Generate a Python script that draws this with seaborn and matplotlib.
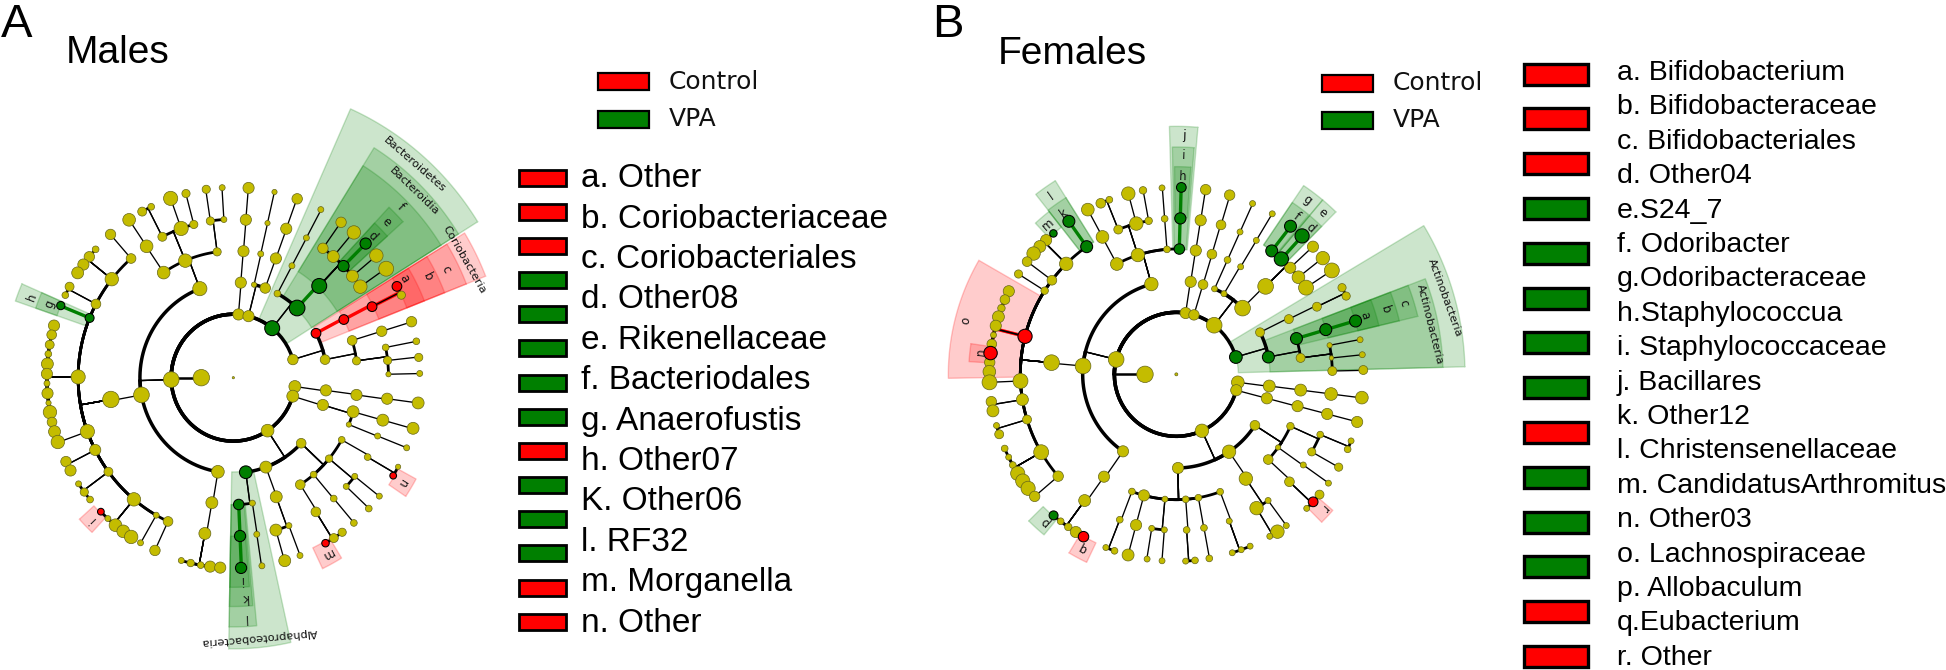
import numpy as np
import matplotlib
matplotlib.use("Agg")
import matplotlib.pyplot as plt
from matplotlib.patches import Rectangle
import seaborn as sns

# --- node tables, depth-first; x/y/diameter are read off crops of the picture ---
# level: 0 root, 1 top node, 2 phylum ... 6 genus. parent = last node one level up
A_X = [700, 605, 513, 601,
       492, 441, 390, 557, 489, 429, 456, 545, 514, 583, 560, 652, 632, 620, 672, 667,
       423, 330, 395, 334, 337, 289, 270, 252, 234, 287, 208, 195, 267, 181,
       232, 160, 153, 147, 142, 139, 137, 137, 139, 142, 147, 153, 161,
       259, 171, 283, 196, 210, 323, 234, 252, 270, 402, 303, 324, 347, 371, 395, 469, 423, 505, 466,
       654, 636, 615, 545, 573, 603, 631, 661,
       715, 722, 730, 737, 745, 745, 761, 781, 801, 822, 794, 826, 857, 889,
       815, 830, 874, 917, 960, 889, 956, 966, 1020, 998, 1059, 1029, 1095, 1056, 1127, 1080, 1158,
       878, 947, 1031, 1117, 1190, 1205, 975, 1057, 1146, 1236, 1071, 1159, 1251, 1165, 1259, 1167, 1262,
       885, 978, 1071, 1164, 1257, 878, 969, 1061, 1151, 1241, 1047, 1134, 1222,
       803, 737, 716, 720, 723, 757, 770, 785, 797, 828, 827, 853, 866, 899,
       903, 900, 947, 1025, 1000, 975, 941, 1001, 1061, 988, 1065, 1138, 1039, 1106, 1026, 1104, 1195, 1180]
A_Y = [800, 800, 805, 572,
       528, 460, 393, 498, 437, 372, 360, 416, 339, 407, 328, 477, 398, 318, 394, 313,
       845, 857, 492, 430, 545, 468, 487, 507, 528, 608, 563, 585, 644, 612,
       798, 664, 688, 714, 738, 764, 790, 815, 841, 866, 890, 916, 941,
       941, 968, 989, 1019, 1042, 1046, 1077, 1098, 1117, 1116, 1148, 1166, 1183, 1198, 1212, 1157, 1227, 1172, 1247,
       1043, 1123, 1203, 1272, 1278, 1283, 1287, 1290,
       640, 557, 476, 395, 314, 642, 563, 483, 404, 323, 571, 494, 417, 341,
       673, 585, 512, 440, 367, 621, 563, 467, 400, 487, 425, 511, 453, 537, 484, 564, 517,
       753, 685, 649, 615, 563, 585, 753, 703, 679, 654, 756, 721, 705, 755, 747, 791, 789,
       823, 833, 845, 855, 866, 848, 871, 889, 911, 932, 922, 952, 983,
       938, 1043, 1127, 1209, 1291, 1125, 1205, 1285, 1031, 1108, 1194, 1272, 1183, 1260,
       970, 1077, 1148, 1200, 1215, 1228, 1052, 1114, 1177, 1011, 1057, 1108, 1083, 1140, 962, 1007, 1032, 1055]
A_D = [6, 44, 42, 38,
       34, 34, 34, 36, 24, 24, 18, 38, 38, 22, 22, 22, 22, 22, 16, 16,
       42, 44, 26, 28, 36, 18, 28, 30, 32, 26, 24, 18, 24, 22,
       38, 30, 26, 24, 18, 32, 30, 16, 30, 14, 36, 26, 32,
       38, 36, 30, 28, 30, 24, 16, 22, 18, 36, 18, 16, 34, 34, 36, 16, 16, 26, 28,
       34, 32, 32, 16, 20, 18, 30, 30,
       30, 30, 30, 30, 30, 30, 14, 16, 14, 14, 28, 30, 30, 28,
       40, 18, 16, 16, 16, 42, 40, 28, 28, 32, 36, 30, 30, 32, 36, 36, 40,
       28, 26, 26, 26, 26, 22, 26, 26, 28, 28, 22, 18, 18, 22, 22, 14, 16,
       32, 30, 30, 30, 32, 32, 30, 32, 32, 32, 14, 16, 16,
       34, 34, 28, 30, 30, 16, 16, 16, 32, 32, 32, 32, 16, 16,
       26, 26, 26, 22, 24, 20, 18, 18, 18, 20, 16, 16, 16, 18, 18, 18, 14, 18]
A_LEVEL = [0, 1, 2, 3,
           4, 5, 6, 4, 5, 6, 6, 5, 6, 5, 6, 4, 5, 6, 5, 6,
           3, 4, 5, 6, 5, 6, 6, 6, 6, 5, 6, 6, 5, 6,
           5, 6, 6, 6, 6, 6, 6, 6, 6, 6, 6, 6, 6,
           5, 6, 5, 6, 6, 5, 6, 6, 6, 5, 6, 6, 6, 6, 6, 5, 6, 5, 6,
           3, 4, 5, 6, 6, 6, 6, 6,
           2, 3, 4, 5, 6, 2, 3, 4, 5, 6, 3, 4, 5, 6,
           2, 3, 4, 5, 6, 3, 4, 5, 6, 5, 6, 5, 6, 5, 6, 5, 6,
           2, 3, 4, 5, 6, 6, 3, 4, 5, 6, 4, 5, 6, 5, 6, 5, 6,
           2, 3, 4, 5, 6, 2, 3, 4, 5, 6, 4, 5, 6,
           2, 3, 4, 5, 6, 4, 5, 6, 3, 4, 5, 6, 5, 6,
           3, 4, 5, 6, 6, 6, 4, 5, 6, 4, 5, 6, 5, 6, 4, 5, 6, 6]
A_GREEN = [(267, 644), (181, 612), (815, 673), (889, 621), (956, 563), (1029, 511), (1095, 453),
           (737, 1043), (716, 1127), (720, 1209), (723, 1291)]
A_RED = [(303, 1148), (947, 685), (1031, 649), (1117, 615), (1190, 563), (975, 1228), (1180, 1055)]
A_PLAIN = [889, 1029, 716]  # green nodes joined by a thin black line

B_X = [679, 585, 497, 604,
       501, 457, 413, 564, 505, 452, 478, 559, 535, 596, 579, 651, 644, 636, 688, 691, 694,
       399, 305, 410, 356, 349, 310, 288, 268, 250, 306, 230, 284, 204,
       225, 175, 163, 153, 144, 136, 130, 125, 120, 118, 116,
       211, 118, 217, 123, 127, 230, 138, 147, 273, 163, 175, 187, 202, 217, 233, 324, 253,
       519, 462, 403, 310, 331, 354, 377, 400,
       707, 722, 737, 752, 767, 732, 759, 785, 813, 839,
       793, 793, 832, 870, 908, 822, 871, 919, 967, 877, 946, 965, 1022, 994, 1056, 1021, 1090, 1045, 1119, 1068, 1146,
       858, 930, 1015, 1101, 1176, 1189, 955, 1038, 1127, 1217, 1050, 1138, 1231, 1144, 1238, 1147, 1241,
       864, 957, 1050, 1143, 1237, 860, 951, 1041, 1132, 1222,
       757, 684, 546, 509, 467, 493, 582, 558, 534, 645, 605, 591, 643, 636,
       707, 710, 707, 735, 745, 762, 778, 810, 838, 847, 874, 901,
       837, 887, 920, 983, 960, 954, 1009,
       915, 954, 1018, 1110, 1090, 1071, 984, 1060, 1136, 1020, 1111, 1204, 1193, 1086, 1167]
B_Y = [823, 823, 778, 552,
       493, 410, 328, 466, 389, 309, 299, 371, 281, 363, 271, 450, 357, 263, 449, 355, 262,
       798, 788, 440, 363, 492, 400, 420, 438, 460, 541, 484, 572, 521,
       709, 573, 598, 624, 650, 677, 705, 732, 759, 787, 815,
       843, 847, 899, 905, 933, 959, 977, 1003, 1057, 1046, 1072, 1096, 1121, 1144, 1166, 1129, 1190,
       1054, 1130, 1203, 1247, 1265, 1282, 1297, 1311,
       638, 546, 454, 361, 269, 644, 554, 465, 375, 285,
       675, 568, 481, 396, 310, 581, 502, 421, 341, 625, 560, 453, 378, 477, 408, 503, 439, 532, 474, 563, 511,
       771, 697, 658, 620, 563, 588, 771, 716, 689, 663, 774, 736, 719, 774, 764, 813, 810,
       847, 858, 870, 882, 893, 871, 895, 918, 942, 966,
       995, 1105, 1174, 1260, 1344, 1354, 1185, 1276, 1366, 1196, 1286, 1379, 1290, 1384,
       1197, 1291, 1385, 1382, 1192, 1284, 1376, 1174, 1264, 1359, 1350, 1340,
       1055, 1135, 1225, 1296, 1310, 1201, 1277,
       976, 1078, 1145, 1185, 1206, 1226, 1042, 1095, 1150, 978, 1004, 1023, 1048, 1056, 1102]
B_D = [8, 44, 42, 36,
       34, 34, 34, 36, 24, 26, 18, 36, 36, 20, 20, 18, 18, 16, 28, 30, 26,
       42, 42, 32, 32, 36, 20, 30, 32, 36, 26, 26, 20, 22,
       38, 30, 26, 20, 32, 30, 16, 26, 36, 28, 34,
       40, 40, 32, 28, 32, 24, 16, 24, 40, 18, 16, 18, 38, 38, 38, 28, 28,
       30, 30, 32, 24, 18, 20, 30, 28,
       30, 30, 30, 30, 28, 28, 26, 26, 26, 28,
       42, 16, 18, 16, 16, 16, 16, 16, 16, 42, 42, 32, 32, 38, 38, 30, 30, 34, 36, 40, 40,
       34, 24, 24, 24, 22, 22, 32, 32, 32, 32, 24, 14, 16, 12, 16, 24, 24,
       34, 32, 32, 34, 34, 30, 30, 30, 30, 30,
       36, 30, 18, 18, 16, 18, 30, 30, 32, 16, 16, 16, 16, 16,
       18, 18, 16, 18, 18, 18, 18, 18, 16, 16, 16, 16,
       36, 36, 36, 36, 16, 16, 16,
       26, 26, 26, 24, 26, 16, 14, 16, 16, 20, 18, 16, 18, 22, 22]
B_LEVEL = [0, 1, 2, 3,
           4, 5, 6, 4, 5, 6, 6, 5, 6, 5, 6, 4, 5, 6, 4, 5, 6,
           3, 4, 5, 6, 5, 6, 6, 6, 6, 5, 6, 5, 6,
           5, 6, 6, 6, 6, 6, 6, 6, 6, 6, 6,
           5, 6, 5, 6, 6, 5, 6, 6, 5, 6, 6, 6, 6, 6, 6, 5, 6,
           3, 4, 5, 6, 6, 6, 6, 6,
           2, 3, 4, 5, 6, 2, 3, 4, 5, 6,
           2, 3, 4, 5, 6, 3, 4, 5, 6, 3, 4, 5, 6, 5, 6, 5, 6, 5, 6, 5, 6,
           2, 3, 4, 5, 6, 6, 3, 4, 5, 6, 4, 5, 6, 5, 6, 5, 6,
           2, 3, 4, 5, 6, 2, 3, 4, 5, 6,
           2, 3, 4, 5, 6, 6, 4, 5, 6, 4, 5, 6, 5, 6,
           4, 5, 6, 6, 4, 5, 6, 4, 5, 6, 6, 6,
           3, 4, 5, 6, 6, 5, 6,
           3, 4, 5, 6, 6, 6, 4, 5, 6, 4, 5, 6, 6, 5, 6]
B_GREEN = [(688, 449), (691, 355), (694, 262), (410, 440), (356, 363), (310, 400), (310, 1247),
           (965, 453), (1022, 378), (994, 477), (1056, 408), (858, 771), (955, 771),
           (1038, 716), (1127, 689), (1217, 663)]
B_RED = [(225, 709), (120, 759), (400, 1311), (1090, 1206)]
B_PLAIN = [955, 1038]

# highlighted clades: angles in degrees, radii in crop units
A_W_T1 = [32, 32, 32, 42, 42, 21.5, 21.5, 21.5, 21.5, 156.5, 156.5, -91, -91, -91, -91, 222, -64.5, -34]
A_W_T2 = [66, 58, 58, 47, 47, 31.5, 31.5, 31.5, 31.5, 161, 161, -77.5, -84.5, -85, -85.5, 227, -58.5, -28.5]
A_W_R1 = [168, 245, 325, 415, 415, 250, 330, 415, 495, 415, 495, 245, 330, 330, 412, 498, 490, 498]
A_W_R2 = [765, 705, 650, 606, 550, 720, 665, 603, 545, 612, 555, 705, 648, 595, 545, 550, 550, 552]
A_W_S = "ggggg" + "rrrr" + "gg" + "gggg" + "rrr"

B_W_T1 = [150, 171.5, 1.5, 1.5, 13.5, 13.5, 13.5, 85, 85.5, 86, 50, 50.3, 45.5, 45.5, 122, 122, 128, 224.8, 239, -45.5]
B_W_T2 = [181, 176.5, 31, 21, 21, 21, 21, 91.6, 91, 90.5, 56, 56, 50, 50, 128, 128, 133, 230.5, 244.5, -41]
B_W_R1 = [468, 560, 186, 281, 376, 468, 560, 375, 375, 470, 468, 468, 468, 468, 468, 468, 560, 563, 560, 562]
B_W_R2 = [684, 623, 866, 800, 745, 688, 625, 744, 682, 623, 683, 622, 683, 622, 685, 625, 620, 624, 625, 622]
B_W_S = "rr" + "ggggg" + "ggg" + "gggg" + "ggg" + "g" + "rr"

# small clade letters
A_LET = ["a", "b", "c", "d", "e", "f", "g", "h", "i", "k", "l", "i", "m", "n"]
A_LET_X = [1213, 1284, 1337, 1118, 1158, 1203, 150, 95, 723, 733, 735, 278, 982, 1205]
A_LET_Y = [541, 538, 517, 432, 395, 355, 610, 592, 1325, 1372, 1425, 1168, 1258, 1075]
B_LET = ["a", "b", "c", "d", "e", "f", "g", "h", "i", "j", "k", "l", "m", "n", "o", "p", "q", "r"]
B_LET_X = [1245, 1305, 1362, 1082, 1118, 1040, 1072, 698, 701, 703, 340, 304, 295, 92, 47, 285, 400, 1120]
B_LET_Y = [647, 628, 610, 383, 338, 350, 300, 230, 167, 108, 338, 287, 375, 757, 662, 1265, 1345, 1226]

# long clade names, rotation as seen in the picture
A_NAMES = ["Bacteroidetes", "Bacteroidia", "Coriobacteria", "Alphaproteobacteria"]
A_NAME_X = [1245, 1243, 1392, 777]
A_NAME_Y = [247, 316, 492, 1475]
A_NAME_ROT = [-41, -44, -60, -175]
B_NAMES = ["Actinobacteria", "Actinobacteria"]
B_NAME_X = [1485, 1440]
B_NAME_Y = [592, 673]
B_NAME_ROT = [-70, -76]

# legends
A_ROW_LABELS = ["a. Other", "b. Coriobacteriaceae", "c. Coriobacteriales", "d. Other08",
                "e. Rikenellaceae", "f. Bacteriodales", "g. Anaerofustis", "h. Other07",
                "K. Other06", "l. RF32", "m. Morganella", "n. Other"]
A_ROW_COLORS = "rrrgggggrgggrr"
B_ROW_LABELS = ["a. Bifidobacterium", "b. Bifidobacteraceae", "c. Bifidobacteriales", "d. Other04",
                "e.S24_7", "f. Odoribacter", "g.Odoribacteraceae", "h.Staphylococcua",
                "i. Staphylococcaceae", "j. Bacillares", "k. Other12", "l. Christensenellaceae",
                "m. CandidatusArthromitus", "n. Other03", "o. Lachnospiraceae", "p. Allobaculum",
                "q.Eubacterium", "r. Other"]
B_ROW_COLORS = "rrrgggggrgggrr"
GROUPS = ["Control", "VPA"]

RED = "#ff0000"
GREEN = "#007f00"
YELLOW = "#c4bc00"
COLORS = {"r": RED, "g": GREEN, "y": YELLOW}
FONT = "Liberation Sans"
LEVEL_STEP_A = [0, 85, 165, 248, 330, 412, 495]
LEVEL_STEP_B = [0, 94, 186, 281, 376, 468, 561]
NODE_SCALE = 1.12


def to_px(cx, cy, panel):
    """Crop coordinates to picture pixels."""
    ox, oy = panel["origin"]
    return ox + np.asarray(cx) / panel["sx"], oy + np.asarray(cy) / panel["sy"]


def polar(theta, r, panel):
    c = panel["center"]
    return c[0] + r * panel["ex"] * np.cos(theta), c[1] - r * np.sin(theta)


def draw_wedges(ax, panel, t1, t2, r1, r2, states):
    for a, b, ri, ro, s in zip(t1, t2, r1, r2, states):
        th = np.radians(np.linspace(a, b, 40))
        xo, yo = polar(th, ro, panel)
        xi, yi = polar(th[::-1], ri, panel)
        px, py = to_px(np.r_[xo, xi], np.r_[yo, yi], panel)
        ax.fill(px, py, facecolor=COLORS[s], alpha=0.2, edgecolor="none", zorder=1)
        ax.plot(np.r_[px, px[0]], np.r_[py, py[0]], color=COLORS[s], alpha=0.22, lw=1, zorder=1)


def draw_tree(ax, panel, xs, ys, ds, levels, green, red, plain):
    c = panel["center"]
    radii = panel["radii"]
    states = ["g" if p in green else "r" if p in red else "y" for p in zip(xs, ys)]
    thetas = np.arctan2(c[1] - np.array(ys), (np.array(xs) - c[0]) / panel["ex"])
    radius = np.array([radii[k] for k in levels], dtype=float)
    last_at_level = {}
    for i, lev in enumerate(levels):
        last_at_level[lev] = i
        if lev < 2:
            continue
        p = last_at_level[lev - 1]
        tp, tc = thetas[p], thetas[i]
        d = (tc - tp + np.pi) % (2 * np.pi) - np.pi
        coloured = states[i] != "y" and states[i] == states[p] and xs[i] not in plain
        col = COLORS[states[i]] if coloured else "black"
        # straight piece out along the parent's angle, then along the child's circle
        rad_x, rad_y = polar(np.array([tp, tp]), np.array([radius[p], radius[i]]), panel)
        arc = np.linspace(tp, tp + d, 30)
        arc_x, arc_y = polar(arc, radius[i], panel)
        px, py = to_px(rad_x, rad_y, panel)
        ax.plot(px, py, color=col, lw=2.4 if coloured else 0.95, zorder=2, solid_capstyle="round")
        px, py = to_px(arc_x, arc_y, panel)
        arc_lw = 2.4 if coloured else (2.5 if lev <= 3 else 2.0)
        ax.plot(px, py, color=col, lw=arc_lw, zorder=2, solid_capstyle="round")

    nx, ny = polar(thetas, radius, panel)
    px, py = to_px(nx, ny, panel)
    area = (np.array(ds) / 3 * 0.72 * NODE_SCALE) ** 2
    for state, edge, lw in [("y", "#66661a", 0.5), ("g", "black", 0.75), ("r", "black", 0.75)]:
        mask = np.array([s == state for s in states])
        sns.scatterplot(x=px[mask], y=py[mask], s=area[mask], color=COLORS[state],
                        edgecolor=edge, linewidth=lw, ax=ax, legend=False, zorder=3)


def draw_letters(ax, panel, letters, xs, ys):
    c = panel["center"]
    for t, x, y in zip(letters, xs, ys):
        rot = np.degrees(np.arctan2(c[1] - y, (x - c[0]) / panel["ex"])) - 90
        px, py = to_px(x, y, panel)
        ax.text(px, py, t, fontsize=8.5, rotation=rot, ha="center", va="center",
                family="DejaVu Sans", color="#111111", zorder=4)


def draw_names(ax, panel, names, xs, ys, rots):
    for t, x, y, rot in zip(names, xs, ys, rots):
        px, py = to_px(x, y, panel)
        ax.text(px, py, t, fontsize=8.2, rotation=rot, ha="center", va="center",
                family="DejaVu Sans", color="#111111", zorder=4)


def color_box(ax, x, yc, w, h, state, lw):
    ax.add_patch(Rectangle((x, yc - h / 2), w, h, facecolor=COLORS[state], edgecolor="black",
                           linewidth=lw, zorder=3))


def main():
    sns.set_theme(style="white")
    fig = plt.figure(figsize=(19.46, 6.70), dpi=100)
    ax = fig.add_axes([0, 0, 1, 1])
    ax.axis("off")

    panel_a = {"origin": (0, 70), "center": (700, 800), "ex": 1.13, "radii": LEVEL_STEP_A, "sx": 3, "sy": 2.6}
    panel_b = {"origin": (950, 100), "center": (679, 823), "ex": 1.0, "radii": LEVEL_STEP_B, "sx": 3, "sy": 3}

    draw_wedges(ax, panel_a, A_W_T1, A_W_T2, A_W_R1, A_W_R2, A_W_S)
    draw_tree(ax, panel_a, A_X, A_Y, A_D, A_LEVEL, A_GREEN, A_RED, A_PLAIN)
    draw_letters(ax, panel_a, A_LET, A_LET_X, A_LET_Y)
    draw_names(ax, panel_a, A_NAMES, A_NAME_X, A_NAME_Y, A_NAME_ROT)

    draw_wedges(ax, panel_b, B_W_T1, B_W_T2, B_W_R1, B_W_R2, B_W_S)
    draw_tree(ax, panel_b, B_X, B_Y, B_D, B_LEVEL, B_GREEN, B_RED, B_PLAIN)
    draw_letters(ax, panel_b, B_LET, B_LET_X, B_LET_Y)
    draw_names(ax, panel_b, B_NAMES, B_NAME_X, B_NAME_Y, B_NAME_ROT)

    # panel letters and titles
    ax.text(1, 37, "A", fontsize=34, family=FONT, color="black", va="baseline")
    ax.text(66, 63, "Males", fontsize=28, family=FONT, color="black", va="baseline")
    ax.text(932, 37, "B", fontsize=34, family=FONT, color="black", va="baseline")
    ax.text(998, 64, "Females", fontsize=28, family=FONT, color="black", va="baseline")

    # group legends
    for i, (name, s) in enumerate(zip(GROUPS, "rg")):
        color_box(ax, 598, 81.5 + 37.5 * i, 51, 17, s, 1.6)
        ax.text(669, 82 + 37 * i, name, fontsize=18, family="DejaVu Sans", va="center", color="#111111")
        color_box(ax, 1322, 83 + 37 * i, 51, 17, s, 1.6)
        ax.text(1393, 83 + 37 * i, name, fontsize=18, family="DejaVu Sans", va="center", color="#111111")

    # clade lists
    for i, s in enumerate(A_ROW_COLORS):
        color_box(ax, 519, 177.7 + 34.15 * i, 47, 16, s, 2.0)
    for i, t in enumerate(A_ROW_LABELS):
        ax.text(581, 178.8 + 40.4 * i, t, fontsize=24, family=FONT, va="center", color="black")
    for i, s in enumerate(B_ROW_COLORS):
        color_box(ax, 1524, 74 + 44.8 * i, 64, 21, s, 2.4)
    for i, t in enumerate(B_ROW_LABELS):
        ax.text(1617, 73 + 34.4 * i, t, fontsize=20.5, family=FONT, va="center", color="black")

    ax.set_xlim(0, 1946)
    ax.set_ylim(670, 0)
    fig.savefig("out.png", dpi=100)
    plt.close(fig)


if __name__ == "__main__":
    main()
